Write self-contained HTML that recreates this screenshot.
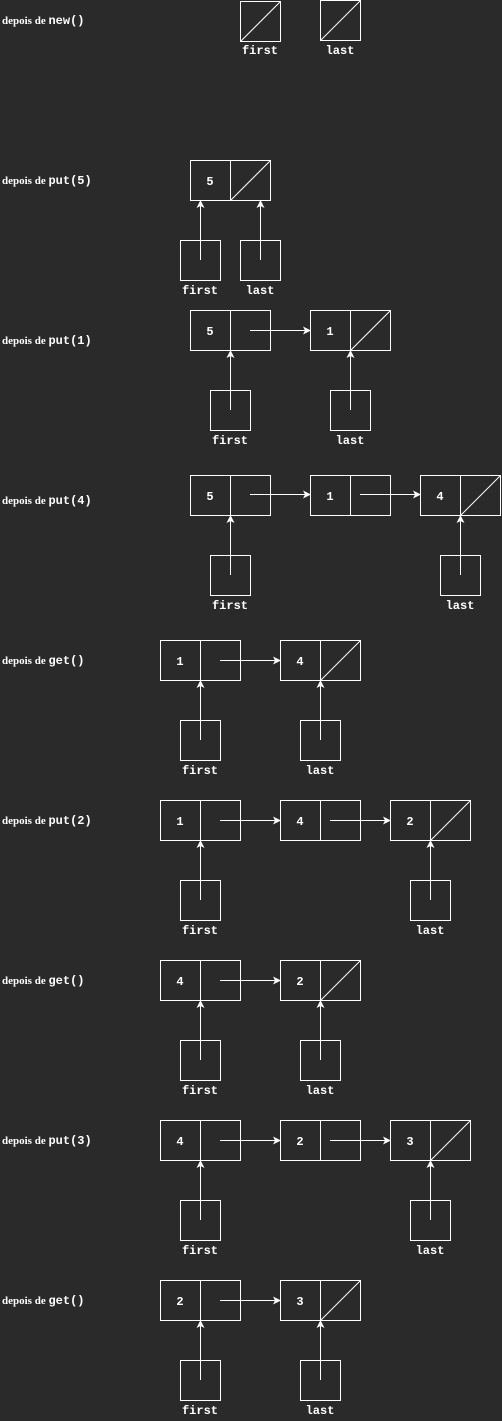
<!DOCTYPE html>
<html><head><meta charset="utf-8"><style>
html,body{margin:0;padding:0;background:#2a2a2a;}
svg{display:block}
.t{font-family:"Liberation Serif",serif;font-size:11px;font-weight:bold;fill:#fff}
.m{font-family:"Liberation Mono","DejaVu Sans Mono",monospace;font-size:12px;font-weight:bold;fill:#fff}
rect{fill:none;stroke:#fff;stroke-width:1}
line{stroke:#fff;stroke-width:1}
</style></head><body>
<svg width="502" height="1421" viewBox="0 0 502 1421">
<defs><marker id="a" markerWidth="8" markerHeight="8" refX="7" refY="4" orient="auto" markerUnits="userSpaceOnUse"><path d="M0,0 L8,4 L0,8 L2,4z" fill="#fff"/></marker></defs>
<g class="t">
<text x="2" y="24">depois de <tspan class="m">new()</tspan></text>
<text x="2" y="184">depois de <tspan class="m">put(5)</tspan></text>
<text x="2" y="344">depois de <tspan class="m">put(1)</tspan></text>
<text x="2" y="504">depois de <tspan class="m">put(4)</tspan></text>
<text x="2" y="664">depois de <tspan class="m">get()</tspan></text>
<text x="2" y="824">depois de <tspan class="m">put(2)</tspan></text>
<text x="2" y="984">depois de <tspan class="m">get()</tspan></text>
<text x="2" y="1144">depois de <tspan class="m">put(3)</tspan></text>
<text x="2" y="1304">depois de <tspan class="m">get()</tspan></text>
</g>
<g class="m" text-anchor="middle">
<text x="260" y="54">first</text><text x="340" y="54">last</text>
<text x="200" y="294">first</text><text x="260" y="294">last</text>
<text x="230" y="444">first</text><text x="350" y="444">last</text>
<text x="230" y="609">first</text><text x="460" y="609">last</text>
<text x="200" y="774">first</text><text x="320" y="774">last</text>
<text x="200" y="934">first</text><text x="430" y="934">last</text>
<text x="200" y="1094">first</text><text x="320" y="1094">last</text>
<text x="200" y="1254">first</text><text x="430" y="1254">last</text>
<text x="200" y="1414">first</text><text x="320" y="1414">last</text>
<!-- node values -->
<text x="210" y="185">5</text>
<text x="210" y="335">5</text><text x="330" y="335">1</text>
<text x="210" y="500">5</text><text x="330" y="500">1</text><text x="440" y="500">4</text>
<text x="180" y="665">1</text><text x="300" y="665">4</text>
<text x="180" y="825">1</text><text x="300" y="825">4</text><text x="410" y="825">2</text>
<text x="180" y="985">4</text><text x="300" y="985">2</text>
<text x="180" y="1145">4</text><text x="300" y="1145">2</text><text x="410" y="1145">3</text>
<text x="180" y="1305">2</text><text x="300" y="1305">3</text>
</g>
<!-- row1 -->
<rect x="240.5" y="1.5" width="40" height="40"/><line x1="240.5" y1="41.5" x2="280.5" y2="1.5"/>
<rect x="320.5" y="0.5" width="40" height="40"/><line x1="320.5" y1="40.5" x2="360.5" y2="0.5"/>
<!-- row2 -->
<rect x="190.5" y="160.5" width="80" height="40"/><line x1="230.5" y1="160.5" x2="230.5" y2="200.5"/><line x1="230.5" y1="200.5" x2="270.5" y2="160.5"/>
<rect x="180.5" y="240.5" width="40" height="40"/><line x1="200.5" y1="260" x2="200.5" y2="201" marker-end="url(#a)"/>
<rect x="240.5" y="240.5" width="40" height="40"/><line x1="260.5" y1="260" x2="260.5" y2="201" marker-end="url(#a)"/>
<!-- row3 -->
<rect x="190.5" y="310.5" width="80" height="40"/><line x1="230.5" y1="310.5" x2="230.5" y2="350.5"/>
<rect x="310.5" y="310.5" width="80" height="40"/><line x1="350.5" y1="310.5" x2="350.5" y2="350.5"/><line x1="350.5" y1="350.5" x2="390.5" y2="310.5"/>
<line x1="250" y1="330.5" x2="310" y2="330.5" marker-end="url(#a)"/>
<rect x="210.5" y="390.5" width="40" height="40"/><line x1="230.5" y1="410" x2="230.5" y2="351" marker-end="url(#a)"/>
<rect x="330.5" y="390.5" width="40" height="40"/><line x1="350.5" y1="410" x2="350.5" y2="351" marker-end="url(#a)"/>
<!-- row4 -->
<rect x="190.5" y="475.5" width="80" height="40"/><line x1="230.5" y1="475.5" x2="230.5" y2="515.5"/>
<rect x="310.5" y="475.5" width="80" height="40"/><line x1="350.5" y1="475.5" x2="350.5" y2="515.5"/>
<rect x="420.5" y="475.5" width="80" height="40"/><line x1="460.5" y1="475.5" x2="460.5" y2="515.5"/><line x1="460.5" y1="515.5" x2="500.5" y2="475.5"/>
<line x1="250" y1="494.5" x2="310" y2="494.5" marker-end="url(#a)"/>
<line x1="360" y1="494.5" x2="420" y2="494.5" marker-end="url(#a)"/>
<rect x="210.5" y="555.5" width="40" height="40"/><line x1="230.5" y1="575" x2="230.5" y2="516" marker-end="url(#a)"/>
<rect x="440.5" y="555.5" width="40" height="40"/><line x1="460.5" y1="575" x2="460.5" y2="516" marker-end="url(#a)"/>
<!-- row5 -->
<rect x="160.5" y="640.5" width="80" height="40"/><line x1="200.5" y1="640.5" x2="200.5" y2="680.5"/>
<rect x="280.5" y="640.5" width="80" height="40"/><line x1="320.5" y1="640.5" x2="320.5" y2="680.5"/><line x1="320.5" y1="680.5" x2="360.5" y2="640.5"/>
<line x1="220" y1="660.5" x2="280" y2="660.5" marker-end="url(#a)"/>
<rect x="180.5" y="720.5" width="40" height="40"/><line x1="200.5" y1="740" x2="200.5" y2="681" marker-end="url(#a)"/>
<rect x="300.5" y="720.5" width="40" height="40"/><line x1="320.5" y1="740" x2="320.5" y2="681" marker-end="url(#a)"/>
<!-- row6 -->
<rect x="160.5" y="800.5" width="80" height="40"/><line x1="200.5" y1="800.5" x2="200.5" y2="840.5"/>
<rect x="280.5" y="800.5" width="80" height="40"/><line x1="320.5" y1="800.5" x2="320.5" y2="840.5"/>
<rect x="390.5" y="800.5" width="80" height="40"/><line x1="430.5" y1="800.5" x2="430.5" y2="840.5"/><line x1="430.5" y1="840.5" x2="470.5" y2="800.5"/>
<line x1="220" y1="820.5" x2="280" y2="820.5" marker-end="url(#a)"/>
<line x1="330" y1="820.5" x2="390" y2="820.5" marker-end="url(#a)"/>
<rect x="180.5" y="880.5" width="40" height="40"/><line x1="200.5" y1="900" x2="200.5" y2="841" marker-end="url(#a)"/>
<rect x="410.5" y="880.5" width="40" height="40"/><line x1="430.5" y1="900" x2="430.5" y2="841" marker-end="url(#a)"/>
<!-- row7 -->
<rect x="160.5" y="960.5" width="80" height="40"/><line x1="200.5" y1="960.5" x2="200.5" y2="1000.5"/>
<rect x="280.5" y="960.5" width="80" height="40"/><line x1="320.5" y1="960.5" x2="320.5" y2="1000.5"/><line x1="320.5" y1="1000.5" x2="360.5" y2="960.5"/>
<line x1="220" y1="980.5" x2="280" y2="980.5" marker-end="url(#a)"/>
<rect x="180.5" y="1040.5" width="40" height="40"/><line x1="200.5" y1="1060" x2="200.5" y2="1001" marker-end="url(#a)"/>
<rect x="300.5" y="1040.5" width="40" height="40"/><line x1="320.5" y1="1060" x2="320.5" y2="1001" marker-end="url(#a)"/>
<!-- row8 -->
<rect x="160.5" y="1120.5" width="80" height="40"/><line x1="200.5" y1="1120.5" x2="200.5" y2="1160.5"/>
<rect x="280.5" y="1120.5" width="80" height="40"/><line x1="320.5" y1="1120.5" x2="320.5" y2="1160.5"/>
<rect x="390.5" y="1120.5" width="80" height="40"/><line x1="430.5" y1="1120.5" x2="430.5" y2="1160.5"/><line x1="430.5" y1="1160.5" x2="470.5" y2="1120.5"/>
<line x1="220" y1="1140.5" x2="280" y2="1140.5" marker-end="url(#a)"/>
<line x1="330" y1="1140.5" x2="390" y2="1140.5" marker-end="url(#a)"/>
<rect x="180.5" y="1200.5" width="40" height="40"/><line x1="200.5" y1="1220" x2="200.5" y2="1161" marker-end="url(#a)"/>
<rect x="410.5" y="1200.5" width="40" height="40"/><line x1="430.5" y1="1220" x2="430.5" y2="1161" marker-end="url(#a)"/>
<!-- row9 -->
<rect x="160.5" y="1280.5" width="80" height="40"/><line x1="200.5" y1="1280.5" x2="200.5" y2="1320.5"/>
<rect x="280.5" y="1280.5" width="80" height="40"/><line x1="320.5" y1="1280.5" x2="320.5" y2="1320.5"/><line x1="320.5" y1="1320.5" x2="360.5" y2="1280.5"/>
<line x1="220" y1="1300.5" x2="280" y2="1300.5" marker-end="url(#a)"/>
<rect x="180.5" y="1360.5" width="40" height="40"/><line x1="200.5" y1="1380" x2="200.5" y2="1321" marker-end="url(#a)"/>
<rect x="300.5" y="1360.5" width="40" height="40"/><line x1="320.5" y1="1380" x2="320.5" y2="1321" marker-end="url(#a)"/>
</svg>
</body></html>
